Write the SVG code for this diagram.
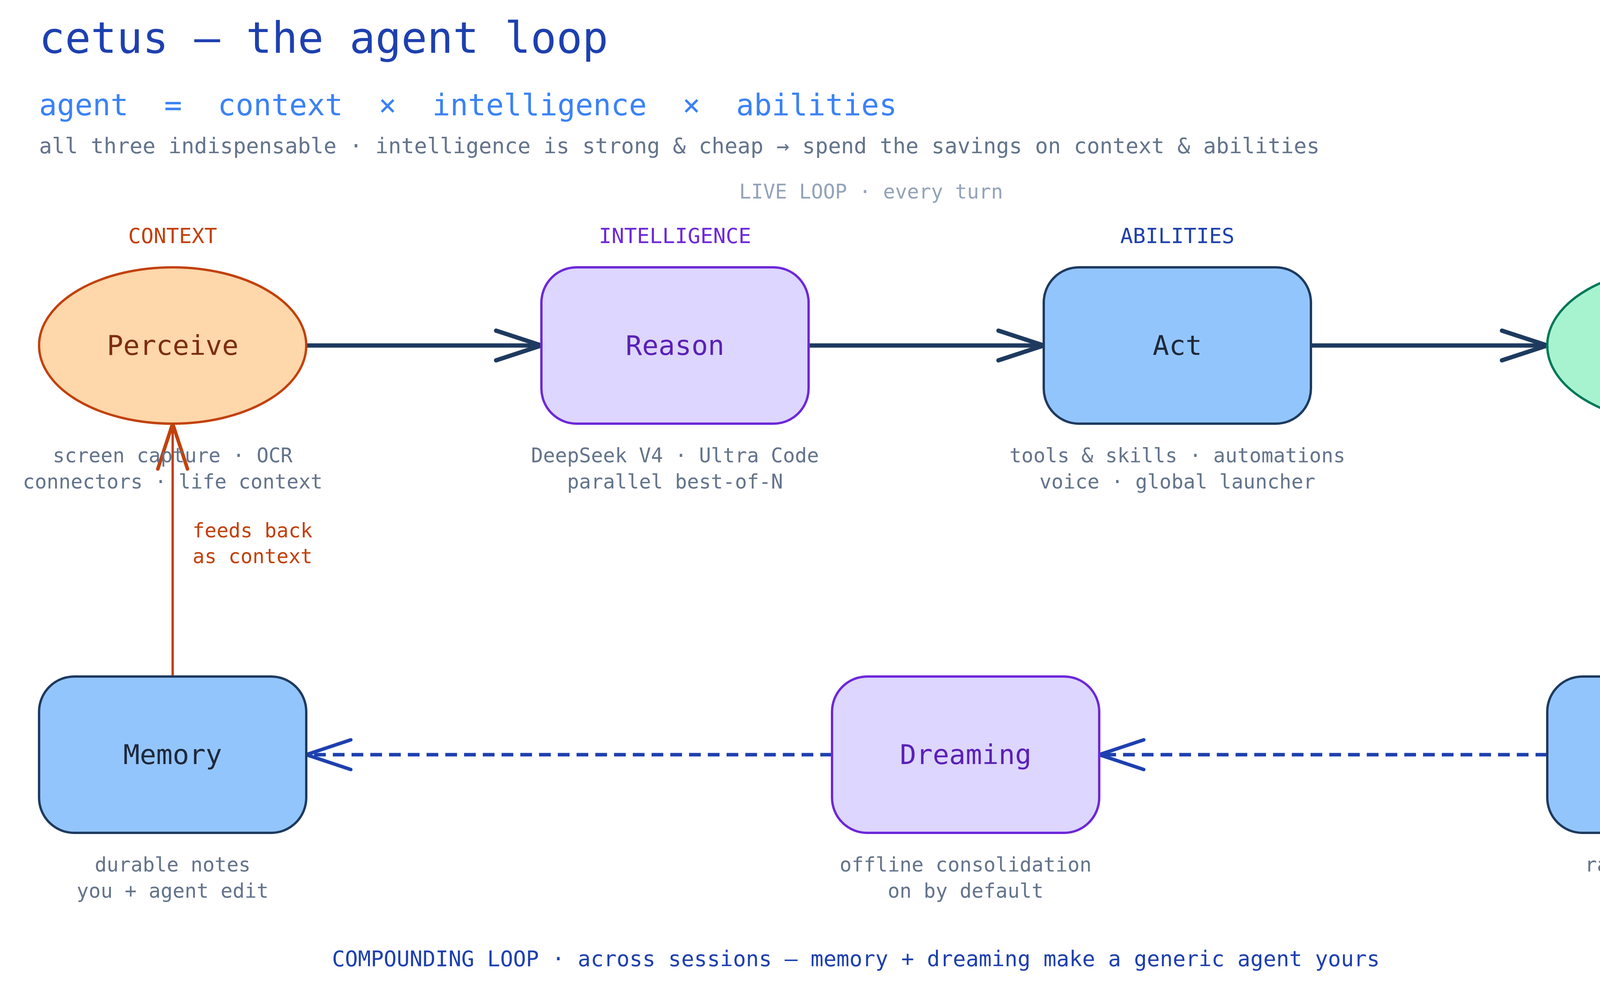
<svg xmlns="http://www.w3.org/2000/svg" width="4720" height="2528" viewBox="0 0 4720 2528">
<style>
text{font-family:"DejaVu Sans Mono","Liberation Mono",monospace}
.lbl{font-size:70px;text-anchor:middle;dominant-baseline:central}
.cap{font-size:51px;text-anchor:middle;fill:#64748b}
.grp{font-size:54px;text-anchor:middle}
.solid{fill:none;stroke:#1e3a5f;stroke-width:11;stroke-linecap:round;stroke-linejoin:round}
.dash{fill:none;stroke:#1e40af;stroke-width:9;stroke-dasharray:30 18}
.head{fill:none;stroke-width:9;stroke-linecap:round;stroke-linejoin:round}
</style>
<rect width="4720" height="2528" fill="#ffffff"/>
<text x="100" y="135" font-size="110" fill="#1e40af">cetus — the agent loop</text>
<text x="100" y="295" font-size="76" fill="#3b82f6" xml:space="preserve">agent  =  context  ×  intelligence  ×  abilities</text>
<text x="100" y="392" font-size="55" fill="#64748b">all three indispensable · intelligence is strong &amp; cheap → spend the savings on context &amp; abilities</text>
<text x="2230" y="508" font-size="51" fill="#94a3b8" text-anchor="middle">LIVE LOOP · every turn</text>
<text x="442" y="622" class="grp" fill="#c2410c">CONTEXT</text>
<text x="1728" y="622" class="grp" fill="#6d28d9">INTELLIGENCE</text>
<text x="3014" y="622" class="grp" fill="#1e40af">ABILITIES</text>
<g id="connectors">
<path class="solid" d="M784 884H1386"/><path class="solid" d="M1270 846L1386 884L1270 922"/>
<path class="solid" d="M2070 884H2672"/><path class="solid" d="M2556 846L2672 884L2556 922"/>
<path class="solid" d="M3356 884H3961"/><path class="solid" d="M3845 846L3961 884L3845 922"/>
<path d="M4303 1084V1731" stroke="#64748b" stroke-width="6" fill="none"/>
<path class="head" stroke="#64748b" stroke-width="6" d="M4265 1615L4303 1731L4341 1615"/>
<path d="M3961 1931H2814" class="dash"/>
<path class="head" stroke="#1e40af" d="M2928 1893L2814 1931L2928 1969"/>
<path d="M2130 1931H784" class="dash"/>
<path class="head" stroke="#1e40af" d="M898 1893L784 1931L898 1969"/>
<path d="M442 1731V1084" stroke="#c2410c" stroke-width="6" fill="none"/>
<path class="head" stroke="#c2410c" stroke-width="6" d="M404 1200L442 1084L480 1200"/>
<text x="493" y="1375" font-size="51" fill="#c2410c">feeds back</text>
<text x="493" y="1441" font-size="51" fill="#c2410c">as context</text>
</g>
<g id="perceive">
<ellipse cx="442" cy="884" rx="342" ry="200" fill="#fed7aa" stroke="#c2410c" stroke-width="6"/>
<text x="442" y="884" class="lbl" fill="#7c2d12">Perceive</text>
<text x="442" y="1183" class="cap">screen capture · OCR</text>
<text x="442" y="1250" class="cap">connectors · life context</text>
</g>
<g id="reason">
<rect x="1386" y="684" width="684" height="400" rx="90" fill="#ddd6fe" stroke="#6d28d9" stroke-width="6"/>
<text x="1728" y="884" class="lbl" fill="#5b21b6">Reason</text>
<text x="1728" y="1183" class="cap">DeepSeek V4 · Ultra Code</text>
<text x="1728" y="1250" class="cap">parallel best-of-N</text>
</g>
<g id="act">
<rect x="2672" y="684" width="684" height="400" rx="90" fill="#93c5fd" stroke="#1e3a5f" stroke-width="6"/>
<text x="3014" y="884" class="lbl" fill="#1e293b">Act</text>
<text x="3014" y="1183" class="cap">tools &amp; skills · automations</text>
<text x="3014" y="1250" class="cap">voice · global launcher</text>
</g>
<g id="outcome">
<ellipse cx="4303" cy="884" rx="342" ry="200" fill="#a7f3d0" stroke="#047857" stroke-width="6"/>
<text x="4303" y="884" class="lbl" fill="#065f46">Outcome</text>
</g>
<g id="memory">
<rect x="100" y="1731" width="684" height="400" rx="90" fill="#93c5fd" stroke="#1e3a5f" stroke-width="6"/>
<text x="442" y="1931" class="lbl" fill="#1e293b">Memory</text>
<text x="442" y="2230" class="cap">durable notes</text>
<text x="442" y="2297" class="cap">you + agent edit</text>
</g>
<g id="dreaming">
<rect x="2130" y="1731" width="684" height="400" rx="90" fill="#ddd6fe" stroke="#6d28d9" stroke-width="6"/>
<text x="2472" y="1931" class="lbl" fill="#5b21b6">Dreaming</text>
<text x="2472" y="2230" class="cap">offline consolidation</text>
<text x="2472" y="2297" class="cap">on by default</text>
</g>
<g id="experience">
<rect x="3961" y="1731" width="684" height="400" rx="90" fill="#93c5fd" stroke="#1e3a5f" stroke-width="6"/>
<text x="4303" y="1931" class="lbl" fill="#1e293b">Experience</text>
<text x="4303" y="2230" class="cap">raw episodic log</text>
</g>
<text x="2191" y="2472" font-size="55" fill="#1e40af" text-anchor="middle">COMPOUNDING LOOP · across sessions — memory + dreaming make a generic agent yours</text>
</svg>
